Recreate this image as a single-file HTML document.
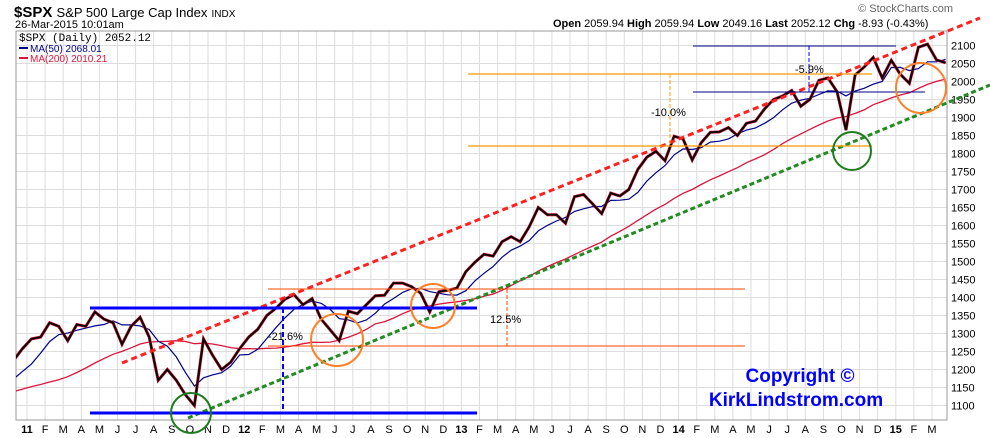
<!DOCTYPE html>
<html><head><meta charset="utf-8"><style>
body{margin:0;background:#fff;}
svg{display:block;font-family:"Liberation Sans",sans-serif;}
</style></head><body>
<svg id="c" width="990" height="438" viewBox="0 0 990 438">
<text x="14" y="17" font-size="15" font-weight="bold">$SPX <tspan font-weight="normal" font-size="13">S&amp;P 500 Large Cap Index</tspan> <tspan font-weight="normal" font-size="10">INDX</tspan></text>
<text x="15" y="28" font-size="11">26-Mar-2015 10:01am</text>
<text x="953" y="12" font-size="11" fill="#666" text-anchor="end">© StockCharts.com</text>
<text x="553" y="27" font-size="11"><tspan font-weight="bold">Open</tspan> 2059.94 <tspan font-weight="bold">High</tspan> 2059.94 <tspan font-weight="bold">Low</tspan> 2049.16 <tspan font-weight="bold">Last</tspan> 2052.12 <tspan font-weight="bold">Chg</tspan> -8.93 (-0.43%)</text>
<g id="grid"></g>
<rect x="16" y="31" width="931" height="389" fill="none" stroke="#999"/>
<g id="series"></g>
<g id="axes"></g>
<text x="19" y="41" font-size="11" font-family="Liberation Mono,monospace">$SPX (Daily) 2052.12</text>
<line x1="19" y1="48" x2="28" y2="48" stroke="#00008b" stroke-width="2"/>
<text x="30" y="52" font-size="10" fill="#00008b">MA(50) 2068.01</text>
<line x1="19" y1="58" x2="28" y2="58" stroke="#dc143c" stroke-width="2"/>
<text x="30" y="62" font-size="10" fill="#dc143c">MA(200) 2010.21</text>
<text x="800" y="382" font-size="19" font-weight="bold" fill="#0000ff" text-anchor="middle" font-family="Liberation Sans Narrow,Liberation Sans,sans-serif">Copyright ©</text>
<text x="796" y="406" font-size="19" font-weight="bold" fill="#0000ff" text-anchor="middle" font-family="Liberation Sans Narrow,Liberation Sans,sans-serif">KirkLindstrom.com</text>
</svg>
<script>
const startMonth = -1;
// warm-up closes (2010, semi-monthly) used only for moving averages
const priorCloses = [1090,1110,1150,1170,1190,1200,1110,1090,1070,1080,1100,1090,1110,1120,1130,1180,1150,1180,1140,1170];
const closes = [1225,1258, 1285,1290, 1330,1320, 1280,1325, 1320,1360, 1340,1330, 1270,1320, 1345,1290, 1170,1200, 1170,1130, 1100,1285, 1240,1200, 1220,1258,
1290,1312, 1350,1370, 1395,1408, 1380,1397, 1340,1310, 1280,1362, 1355,1380, 1405,1406, 1440,1440, 1430,1412, 1360,1416, 1420,1426,
1472,1498, 1520,1515, 1555,1569, 1555,1597, 1650,1630, 1630,1606, 1680,1686, 1660,1633, 1690,1682, 1700,1756, 1790,1806, 1780,1848,
1840,1782, 1830,1859, 1860,1872, 1850,1884, 1890,1924, 1950,1960, 1975,1931, 1950,2003, 2010,1972, 1865,2018, 2040,2067, 2010,2059,
2020,1995, 2095,2104, 2060,2052];
const yTicks = [1100,1150,1200,1250,1300,1350,1400,1450,1500,1550,1600,1650,1700,1750,1800,1850,1900,1950,2000,2050,2100];
const monthLabels = ["11","F","M","A","M","J","J","A","S","O","N","D","12","F","M","A","M","J","J","A","S","O","N","D","13","F","M","A","M","J","J","A","S","O","N","D","14","F","M","A","M","J","J","A","S","O","N","D","15","F","M"];
const NS="http://www.w3.org/2000/svg";
const xOf = m => 27 + m*18.1;
const yOf = v => 405.5 - (v-1100)*0.36;
function el(tag, attrs, parent){const e=document.createElementNS(NS,tag);for(const k in attrs)e.setAttribute(k,attrs[k]);document.getElementById(parent).appendChild(e);return e;}
yTicks.forEach(v=>{
 const g=el('line',{x1:16,x2:947,y1:yOf(v),y2:yOf(v),stroke:'#ddd'},'grid');
 
 
 const t=el('text',{x:951,y:yOf(v)+4,'font-size':11},'axes');t.textContent=v;
 
 
});
monthLabels.forEach((lab,i)=>{
 const x=xOf(i);
 const g=el('line',{x1:x,x2:x,y1:31,y2:420,stroke:'#ddd'},'grid');
 
 
 const t=el('text',{x:x,y:433,'font-size':11,'text-anchor':'middle','font-weight':lab.length>1?'bold':'normal'},'axes');t.textContent=lab;
 
 
});
const pts=closes.map((c,i)=>[xOf(startMonth+0.25+i*0.5),c]);
const all=priorCloses.concat(closes), off=priorCloses.length;
function ma(n){return closes.map((c,i)=>{const j=i+off;const s=all.slice(Math.max(0,j-n+1),j+1);return s.reduce((a,b)=>a+b,0)/s.length;});}
const ma50=ma(5), ma200=ma(20);
function path(vals){return vals.map((v,i)=>(i?'L':'M')+pts[i][0].toFixed(1)+','+yOf(v).toFixed(1)).join('');}
const cp=document.createElementNS(NS,'clipPath');cp.id='clip';cp.innerHTML='<rect x="16" y="31" width="931" height="389"/>';document.getElementById('c').appendChild(cp);
let p=el('path',{d:path(ma200),fill:'none',stroke:'#dc143c','stroke-width':1.3,'clip-path':'url(#clip)'},'series');


p=el('path',{d:path(ma50),fill:'none',stroke:'#00008b','stroke-width':1.2,'clip-path':'url(#clip)'},'series');


p=el('path',{d:path(closes),fill:'none',stroke:'#c8102e','stroke-width':3,'clip-path':'url(#clip)'},'series');


p=el('path',{d:path(closes),fill:'none',stroke:'#000','stroke-width':1.8,'clip-path':'url(#clip)'},'series');


</script>
<svg style="position:absolute;left:0;top:0" width="990" height="438">
<line x1="122" y1="363" x2="980" y2="18" stroke="#ff2020" stroke-width="3" stroke-dasharray="6,4"/>
<line x1="188" y1="418" x2="990" y2="85" stroke="#228b22" stroke-width="3" stroke-dasharray="5,3"/>
<line x1="90" y1="308" x2="477" y2="308" stroke="#0000ff" stroke-width="3"/>
<line x1="90" y1="413" x2="477" y2="413" stroke="#0000ff" stroke-width="3"/>
<line x1="283" y1="308" x2="283" y2="413" stroke="#0000ff" stroke-width="2" stroke-dasharray="5,3"/>
<text x="268" y="340" font-size="11">-21.6%</text>
<line x1="268" y1="289" x2="745" y2="289" stroke="#ff4500" stroke-width="1"/>
<line x1="268" y1="346" x2="745" y2="346" stroke="#ff4500" stroke-width="1"/>
<line x1="507" y1="289" x2="507" y2="346" stroke="#ff4500" stroke-width="1" stroke-dasharray="4,2"/>
<text x="490" y="323" font-size="11">12.5%</text>
<line x1="468" y1="74" x2="872" y2="74" stroke="#ff9900" stroke-width="1.3"/>
<line x1="468" y1="146" x2="872" y2="146" stroke="#ff9900" stroke-width="1.3"/>
<line x1="670" y1="74" x2="670" y2="146" stroke="#ff9900" stroke-width="1" stroke-dasharray="4,2"/>
<text x="651" y="116" font-size="11">-10.0%</text>
<line x1="693" y1="46" x2="896" y2="46" stroke="#00008b" stroke-width="1"/>
<line x1="693" y1="92" x2="925" y2="92" stroke="#00008b" stroke-width="1"/>
<line x1="809" y1="46" x2="809" y2="92" stroke="#0000ff" stroke-width="1" stroke-dasharray="4,2"/>
<text x="795" y="73" font-size="11">-5.9%</text>
<circle cx="337" cy="340" r="26" fill="none" stroke="#ff7f27" stroke-width="2"/>
<circle cx="433" cy="306" r="22" fill="none" stroke="#ff7f27" stroke-width="2"/>
<circle cx="921" cy="88" r="25" fill="none" stroke="#ff7f27" stroke-width="2"/>
<circle cx="191" cy="413" r="20" fill="none" stroke="#1e7b1e" stroke-width="2"/>
<circle cx="852" cy="151" r="19" fill="none" stroke="#1e7b1e" stroke-width="2"/>
</svg>
</body></html>
